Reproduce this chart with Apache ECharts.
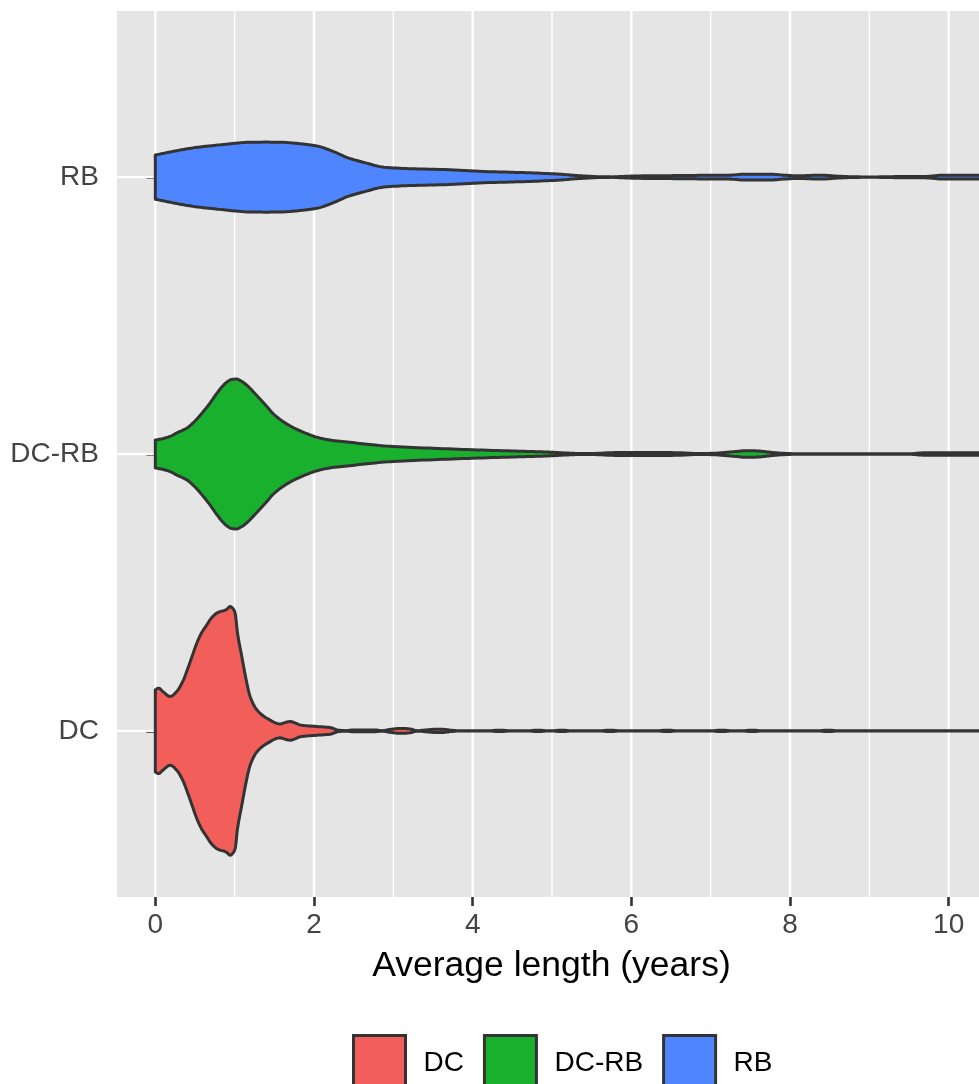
<!DOCTYPE html>
<html>
<head>
<meta charset="utf-8">
<script src="https://cdn.jsdelivr.net/npm/echarts@6/dist/echarts.min.js"></script>
<style>
  html, body { margin: 0; padding: 0; background: #ffffff; }
  #chart { width: 979px; height: 1084px; }
</style>
</head>
<body>
<div id="chart"></div>
<script>
// Groups, bottom to top on the vertical axis
const CATEGORIES = ['DC', 'DC-RB', 'RB'];
const CATEGORY_POS = [1, 2, 3];
const GROUP_COLORS = ['#F25E5A', '#19B02E', '#4F86FF'];

// Horizontal axis breaks
const X_TICKS = [0, 2, 4, 6, 8, 10];
const X_MINOR = [1, 3, 5, 7, 9];

// Violin density profiles (relative density, DC peak = 1), trimmed at the data range
const dcX = [0, 0.04, 0.10, 0.187, 0.27, 0.355, 0.418, 0.47, 0.523, 0.58, 0.649, 0.71, 0.775, 0.82, 0.86, 0.90, 0.943, 0.975, 1.006, 1.036, 1.09, 1.145, 1.195, 1.28, 1.405, 1.573, 1.64, 1.70, 1.76, 1.825, 2.035, 2.20, 2.31, 2.40, 2.50, 2.75, 2.86, 2.96, 3.10, 3.20, 3.31, 3.45, 3.60, 3.72, 3.82, 4.20, 4.34, 4.48, 4.70, 4.82, 4.95, 5.00, 5.12, 5.25, 5.60, 5.73, 5.86, 6.32, 6.45, 6.58, 7.00, 7.14, 7.27, 7.40, 7.52, 7.65, 8.35, 8.48, 8.61, 10.5];
const dcDensity = [0.329, 0.343, 0.313, 0.276, 0.316, 0.410, 0.516, 0.610, 0.704, 0.783, 0.851, 0.908, 0.945, 0.958, 0.964, 0.976, 0.998, 0.984, 0.945, 0.785, 0.597, 0.410, 0.276, 0.169, 0.102, 0.056, 0.068, 0.075, 0.064, 0.048, 0.035, 0.027, 0.006, 0.002, 0.008, 0.008, 0.002, 0.012, 0.020, 0.016, 0.002, 0.010, 0.014, 0.006, 0.001, 0.001, 0.006, 0.001, 0.001, 0.006, 0.001, 0.001, 0.006, 0.001, 0.001, 0.006, 0.001, 0.001, 0.006, 0.001, 0.001, 0.006, 0.001, 0.001, 0.006, 0.001, 0.001, 0.006, 0.001, 0.001];

const dcrbX = [0, 0.10, 0.20, 0.27, 0.34, 0.40, 0.50, 0.61, 0.70, 0.77, 0.85, 0.90, 0.96, 1.02, 1.08, 1.15, 1.25, 1.32, 1.40, 1.49, 1.60, 1.70, 1.87, 2.04, 2.20, 2.45, 2.70, 3.00, 3.50, 4.00, 4.50, 4.80, 5.00, 5.15, 5.35, 5.55, 5.75, 6.20, 6.60, 6.85, 7.05, 7.20, 7.35, 7.45, 7.60, 7.75, 7.90, 8.10, 9.50, 9.70, 10.5];
const dcrbDensity = [0.112, 0.124, 0.145, 0.169, 0.189, 0.209, 0.265, 0.345, 0.418, 0.482, 0.546, 0.576, 0.598, 0.602, 0.586, 0.554, 0.490, 0.442, 0.386, 0.321, 0.265, 0.225, 0.174, 0.134, 0.112, 0.094, 0.076, 0.060, 0.046, 0.034, 0.024, 0.019, 0.014, 0.009, 0.004, 0.005, 0.011, 0.013, 0.010, 0.004, 0.006, 0.014, 0.022, 0.027, 0.024, 0.014, 0.006, 0.002, 0.002, 0.010, 0.010];

const rbX = [0, 0.15, 0.31, 0.50, 0.78, 1.00, 1.15, 1.40, 1.62, 1.78, 1.92, 2.03, 2.20, 2.45, 2.63, 2.88, 3.20, 3.71, 4.20, 4.55, 4.90, 5.10, 5.30, 5.45, 5.60, 5.75, 5.90, 6.10, 6.50, 6.80, 7.20, 7.45, 7.75, 7.92, 8.10, 8.40, 8.60, 8.90, 9.10, 9.40, 9.70, 9.95, 10.5];
const rbDensity = [0.177, 0.197, 0.217, 0.237, 0.257, 0.271, 0.279, 0.281, 0.279, 0.271, 0.261, 0.251, 0.217, 0.150, 0.118, 0.080, 0.068, 0.059, 0.044, 0.038, 0.030, 0.024, 0.013, 0.008, 0.003, 0.002, 0.006, 0.010, 0.012, 0.014, 0.015, 0.024, 0.024, 0.016, 0.011, 0.016, 0.008, 0.002, 0.002, 0.005, 0.006, 0.016, 0.016];

const PROFILES = [
  { x: dcX, d: dcDensity },
  { x: dcrbX, d: dcrbDensity },
  { x: rbX, d: rbDensity }
];

// Largest violin spans 0.9 of a category slot (half-width 0.45)
const MAX_HALF_WIDTH = 0.45;
const OUTLINE = '#333333';
const FONT = '"Liberation Sans", Arial, sans-serif';

// Monotone cubic (Fritsch-Carlson) outline through the profile points, drawn in pixel space
function smoothOutline(px, py, steps) {
  const n = px.length;
  const dx = [], sl = [], m = new Array(n);
  for (let i = 0; i < n - 1; i++) {
    dx.push(px[i + 1] - px[i]);
    sl.push(dx[i] === 0 ? 0 : (py[i + 1] - py[i]) / dx[i]);
  }
  m[0] = sl[0];
  m[n - 1] = sl[n - 2];
  for (let i = 1; i < n - 1; i++) {
    if (sl[i - 1] * sl[i] <= 0) m[i] = 0;
    else {
      const w1 = 2 * dx[i] + dx[i - 1], w2 = dx[i] + 2 * dx[i - 1];
      m[i] = (w1 + w2) / (w1 / sl[i - 1] + w2 / sl[i]);
    }
  }
  const out = [];
  for (let i = 0; i < n - 1; i++) {
    const h = dx[i];
    for (let s = 0; s < steps; s++) {
      const t = s / steps, t2 = t * t, t3 = t2 * t;
      const h00 = 2 * t3 - 3 * t2 + 1, h10 = t3 - 2 * t2 + t;
      const h01 = -2 * t3 + 3 * t2, h11 = t3 - t2;
      out.push([px[i] + t * h, h00 * py[i] + h10 * h * m[i] + h01 * py[i + 1] + h11 * h * m[i + 1]]);
    }
  }
  out.push([px[n - 1], py[n - 1]]);
  return out;
}

function violinRenderer(profile, pos) {
  return function (params, api) {
    const px = [], topY = [], botY = [];
    for (let i = 0; i < profile.x.length; i++) {
      const hw = profile.d[i] * MAX_HALF_WIDTH;
      const a = api.coord([profile.x[i], pos + hw]);
      const b = api.coord([profile.x[i], pos - hw]);
      px.push(a[0]);
      topY.push(a[1]);
      botY.push(b[1]);
    }
    const top = smoothOutline(px, topY, 8);
    const bottom = smoothOutline(px, botY, 8).reverse();
    return {
      type: 'polygon',
      shape: { points: top.concat(bottom) },
      style: { fill: api.visual('color'), stroke: OUTLINE, lineWidth: 3, lineJoin: 'round' }
    };
  };
}

function verticalGrid(width) {
  return function (params, api) {
    const cs = params.coordSys;
    const x = api.coord([api.value(0), 2])[0];
    return { type: 'line', shape: { x1: x, y1: cs.y, x2: x, y2: cs.y + cs.height },
             style: { stroke: '#ffffff', lineWidth: width } };
  };
}

function horizontalGrid(params, api) {
  const cs = params.coordSys;
  const y = api.coord([0, api.value(1)])[1];
  return { type: 'line', shape: { x1: cs.x, y1: y, x2: cs.x + cs.width, y2: y },
           style: { stroke: '#ffffff', lineWidth: 2.4 } };
}

const violinSeries = CATEGORIES.map((name, i) => ({
  name: name,
  type: 'custom',
  z: 3,
  clip: true,
  itemStyle: { color: GROUP_COLORS[i] },
  renderItem: violinRenderer(PROFILES[i], CATEGORY_POS[i]),
  data: [[0, CATEGORY_POS[i]]]
}));

const chart = echarts.init(document.getElementById('chart'), null, { renderer: 'canvas' });

chart.setOption({
  animation: false,
  backgroundColor: '#ffffff',
  grid: {
    left: 117, top: 11, width: 862, height: 886,
    show: true, backgroundColor: '#E5E5E5', borderWidth: 0
  },
  title: {
    text: 'Average length (years)',
    left: 551.5, top: 948, textAlign: 'center', padding: 0,
    textStyle: { fontFamily: FONT, fontSize: 35.5, fontWeight: 'normal', color: '#000000' }
  },
  legend: {
    data: CATEGORIES,
    left: 352, top: 1034, padding: 0,
    orient: 'horizontal',
    itemWidth: 52, itemHeight: 55, itemGap: 19,
    icon: 'rect',
    itemStyle: { borderColor: OUTLINE, borderWidth: 3 },
    textStyle: { fontFamily: FONT, fontSize: 28, color: '#000000', padding: [0, 0, 0, 13] }
  },
  xAxis: {
    type: 'value',
    min: -0.483, max: 10.382,
    axisLine: { show: false },
    splitLine: { show: false },
    axisTick: { show: true, customValues: X_TICKS, length: 9, lineStyle: { color: OUTLINE, width: 2.6 } },
    axisLabel: { customValues: X_TICKS, margin: 14, fontFamily: FONT, fontSize: 28, color: '#444444' }
  },
  yAxis: {
    type: 'value',
    min: 0.4, max: 3.6,
    axisLine: { show: false },
    splitLine: { show: false },
    axisTick: { show: true, customValues: CATEGORY_POS, length: 9, lineStyle: { color: OUTLINE, width: 2.6 } },
    axisLabel: {
      customValues: CATEGORY_POS, margin: 18, fontFamily: FONT, fontSize: 28, color: '#444444',
      formatter: v => CATEGORIES[CATEGORY_POS.indexOf(Math.round(v))] || ''
    }
  },
  series: [
    { type: 'custom', name: 'minor-grid', silent: true, z: 1, renderItem: verticalGrid(1.4),
      data: X_MINOR.map(v => [v, 2]) },
    { type: 'custom', name: 'major-grid', silent: true, z: 1, renderItem: verticalGrid(2.4),
      data: X_TICKS.map(v => [v, 2]) },
    { type: 'custom', name: 'category-grid', silent: true, z: 1, renderItem: horizontalGrid,
      data: CATEGORY_POS.map(p => [0, p]) }
  ].concat(violinSeries)
});
</script>
</body>
</html>
